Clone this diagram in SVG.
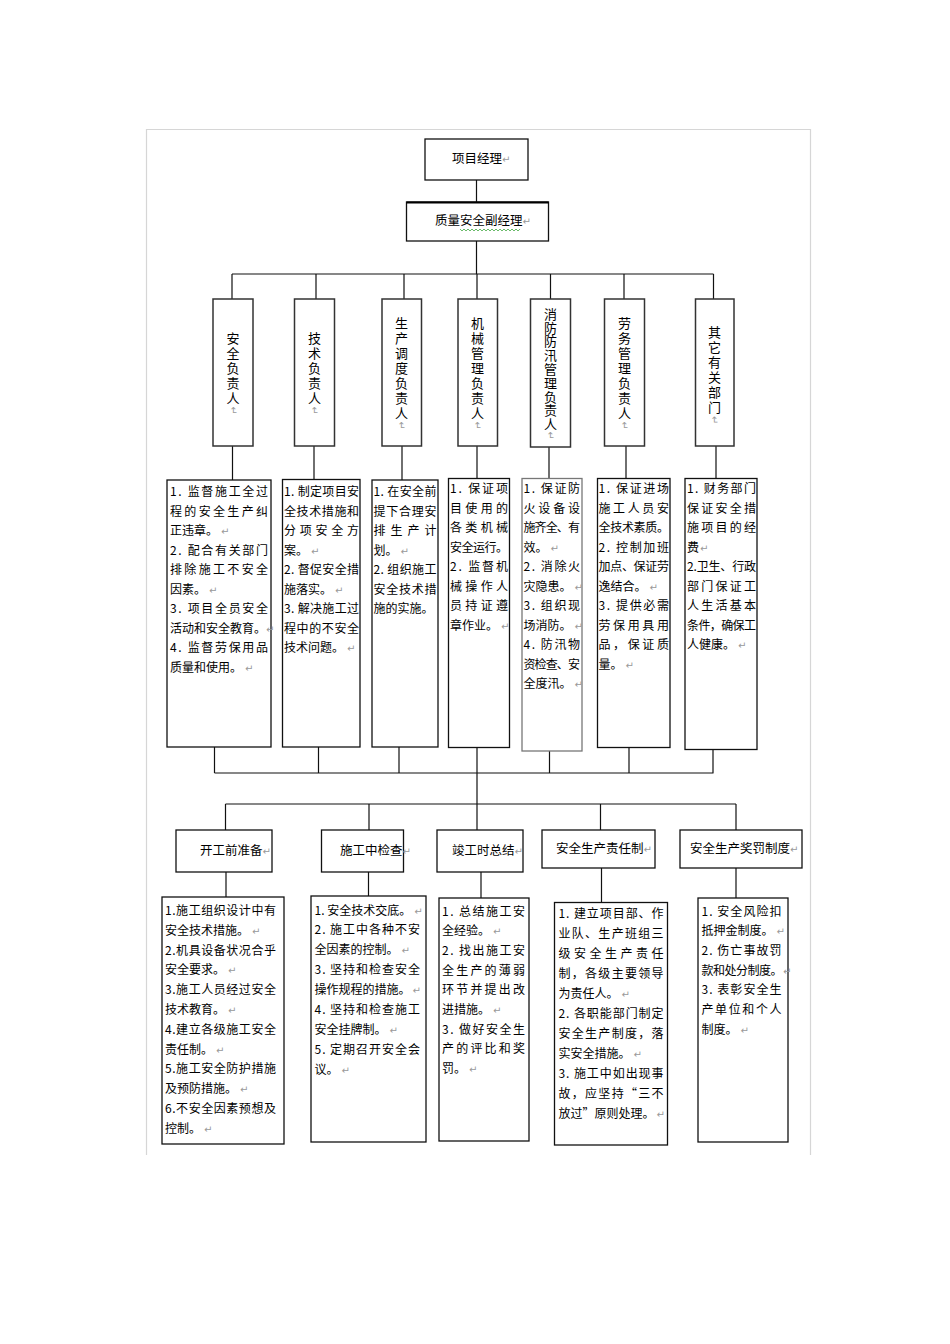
<svg xmlns="http://www.w3.org/2000/svg" width="950" height="1344" viewBox="0 0 950 1344">
<style>
.frame{fill:none;stroke:#d6d6d6;stroke-width:1.2}
.box{fill:#fff;stroke:#111;stroke-width:1.3}
.vbox{fill:#fff;stroke:#333;stroke-width:1.5}
.ln{fill:none;stroke:#111;stroke-width:1.2}
text{font-family:"Noto Sans CJK SC","Noto Sans",sans-serif;fill:#000}
.b{font-size:12px}
.h{font-size:12.5px}
.v{font-size:13px;writing-mode:vertical-rl;text-anchor:middle;letter-spacing:2px}
.pm{fill:#999;font-size:10px;font-family:"DejaVu Sans",sans-serif}
</style>
<rect width="950" height="1344" fill="#fff"/>
<path class="frame" d="M146.5 1155 V129.5 H810.5 V1155"/>

<g id="connectors">
<path class="ln" d="M476.5 180 V202 M476.5 241 V274 M232 274 H713.5 M232 274 V299 M316 274 V299 M404 274 V299 M477 274 V299 M550.5 274 V299 M624 274 V299 M713.5 274 V299"/>
<path class="ln" d="M232.5 446 V480 M314 446 V479.5 M402 446 V480 M477 446 V478.5 M549 447 V478.5 M626 446 V478.5 M716 446 V478.5"/>
<path class="ln" d="M214.5 747 V773 M318.5 747 V773 M399 747 V773 M477 747.5 V773 M549.5 751 V773 M629 747.5 V773 M713 749.5 V773 M214.5 773 H713.5 M477 773 V830"/>
<path class="ln" d="M225.5 804 H736 M225.5 804 V830 M369 804 V830 M600.5 804 V830 M736 804 V830"/>
<path class="ln" d="M226 872 V897 M368.5 872 V896 M481 872 V898 M601.5 868 V903 M736 868 V898"/>
</g>

<g id="n-pm">
<rect class="box" x="425" y="139" width="103" height="41"/>
<text class="h" x="452" y="163">项目经理<tspan class="pm">↵</tspan></text>
</g>
<g id="n-qsdm">
<rect class="box" x="406.5" y="202" width="142" height="39"/>
<path d="M406.5 202.5 H548.5" stroke="#000" stroke-width="2"/>
<text class="h" x="435" y="225">质量安全副经理<tspan class="pm">↵</tspan></text>
<polyline points="460,229 462,231 464,229 466,231 468,229 470,231 472,229 474,231 476,229 478,231 480,229 482,231 484,229 486,231 488,229 490,231 492,229 494,231 496,229 498,231 500,229 502,231 504,229 506,231 508,229 510,231 512,229 514,231 516,229 518,231 520,229" fill="none" stroke="#4a4" stroke-width="0.8"/>
</g>

<g id="n-v1"><rect class="vbox" x="213" y="299" width="40" height="147"/><text class="v" x="233" y="374">安全负责人<tspan class="pm">↵</tspan></text></g>
<g id="n-v2"><rect class="vbox" x="294.5" y="299" width="40" height="147"/><text class="v" x="314.5" y="374">技术负责人<tspan class="pm">↵</tspan></text></g>
<g id="n-v3"><rect class="vbox" x="382" y="299" width="39.5" height="147"/><text class="v" x="401.5" y="374">生产调度负责人<tspan class="pm">↵</tspan></text></g>
<g id="n-v4"><rect class="vbox" x="458" y="299" width="39.5" height="147"/><text class="v" x="477.5" y="374">机械管理负责人<tspan class="pm">↵</tspan></text></g>
<g id="n-v5"><rect class="vbox" x="530.5" y="299" width="40" height="148"/><text class="v" x="550.5" y="374" style="letter-spacing:0.8px">消防防汛管理负责人<tspan class="pm">↵</tspan></text></g>
<g id="n-v6"><rect class="vbox" x="604.5" y="299" width="40" height="147"/><text class="v" x="624.5" y="374">劳务管理负责人<tspan class="pm">↵</tspan></text></g>
<g id="n-v7"><rect class="vbox" x="695.5" y="299" width="38.5" height="147"/><text class="v" x="714.5" y="376">其它有关部门<tspan class="pm">↵</tspan></text></g>

<g id="n-t1">
<rect class="box" x="167" y="480" width="104" height="267"/>
<text class="b" x="170" y="496" textLength="98" lengthAdjust="spacing">1. 监督施工全过</text>
<text class="b" x="170" y="515.5" textLength="98" lengthAdjust="spacing">程的安全生产纠</text>
<text class="b" x="170" y="535">正违章。<tspan class="pm" dx="3">↵</tspan></text>
<text class="b" x="170" y="554.5" textLength="98" lengthAdjust="spacing">2. 配合有关部门</text>
<text class="b" x="170" y="574" textLength="98" lengthAdjust="spacing">排除施工不安全</text>
<text class="b" x="170" y="593.5">因素。<tspan class="pm" dx="3">↵</tspan></text>
<text class="b" x="170" y="613" textLength="98" lengthAdjust="spacing">3. 项目全员安全</text>
<text class="b" x="170" y="632.5" textLength="96" lengthAdjust="spacing">活动和安全教育。</text>
<text class="pm" x="266" y="632.5">↵</text>
<text class="b" x="170" y="652" textLength="98" lengthAdjust="spacing">4. 监督劳保用品</text>
<text class="b" x="170" y="671.5">质量和使用。<tspan class="pm" dx="3">↵</tspan></text>
</g>

<g id="n-t2">
<rect class="box" x="282.5" y="479.5" width="77.5" height="267.5"/>
<text class="b" x="284" y="496" textLength="75" lengthAdjust="spacing">1. 制定项目安</text>
<text class="b" x="284" y="515.5" textLength="75" lengthAdjust="spacing">全技术措施和</text>
<text class="b" x="284" y="535" textLength="75" lengthAdjust="spacing">分项安全方</text>
<text class="b" x="284" y="554.5">案。<tspan class="pm" dx="3">↵</tspan></text>
<text class="b" x="284" y="574" textLength="75" lengthAdjust="spacing">2. 督促安全措</text>
<text class="b" x="284" y="593.5">施落实。<tspan class="pm" dx="3">↵</tspan></text>
<text class="b" x="284" y="613" textLength="75" lengthAdjust="spacing">3. 解决施工过</text>
<text class="b" x="284" y="632.5" textLength="75" lengthAdjust="spacing">程中的不安全</text>
<text class="b" x="284" y="652">技术问题。<tspan class="pm" dx="3">↵</tspan></text>
</g>

<g id="n-t3">
<rect class="box" x="372" y="480" width="66" height="267"/>
<text class="b" x="373.5" y="496" textLength="63" lengthAdjust="spacing">1. 在安全前</text>
<text class="b" x="373.5" y="515.5" textLength="63" lengthAdjust="spacing">提下合理安</text>
<text class="b" x="373.5" y="535" textLength="63" lengthAdjust="spacing">排生产计</text>
<text class="b" x="373.5" y="554.5">划。<tspan class="pm" dx="3">↵</tspan></text>
<text class="b" x="373.5" y="574" textLength="63" lengthAdjust="spacing">2. 组织施工</text>
<text class="b" x="373.5" y="593.5" textLength="63" lengthAdjust="spacing">安全技术措</text>
<text class="b" x="373.5" y="613">施的实施。</text>
</g>

<g id="n-t4">
<rect class="box" x="448.5" y="478.5" width="61" height="269"/>
<text class="b" x="450" y="493" textLength="58" lengthAdjust="spacing">1. 保证项</text>
<text class="b" x="450" y="512.5" textLength="58" lengthAdjust="spacing">目使用的</text>
<text class="b" x="450" y="532" textLength="58" lengthAdjust="spacing">各类机械</text>
<text class="b" x="450" y="551.5" textLength="58" lengthAdjust="spacing">安全运行。</text>
<text class="b" x="450" y="571" textLength="58" lengthAdjust="spacing">2. 监督机</text>
<text class="b" x="450" y="590.5" textLength="58" lengthAdjust="spacing">械操作人</text>
<text class="b" x="450" y="610" textLength="58" lengthAdjust="spacing">员持证遵</text>
<text class="b" x="450" y="629.5">章作业。<tspan class="pm" dx="3">↵</tspan></text>
</g>

<g id="n-t5">
<rect class="box" x="522" y="478.5" width="60" height="272.5" style="stroke:#777"/>
<text class="b" x="523.5" y="493" textLength="56.5" lengthAdjust="spacing">1. 保证防</text>
<text class="b" x="523.5" y="512.5" textLength="56.5" lengthAdjust="spacing">火设备设</text>
<text class="b" x="523.5" y="532" textLength="56.5" lengthAdjust="spacing">施齐全、有</text>
<text class="b" x="523.5" y="551.5">效。<tspan class="pm" dx="3">↵</tspan></text>
<text class="b" x="523.5" y="571" textLength="56.5" lengthAdjust="spacing">2. 消除火</text>
<text class="b" x="523.5" y="590.5">灾隐患。<tspan class="pm" dx="3">↵</tspan></text>
<text class="b" x="523.5" y="610" textLength="56.5" lengthAdjust="spacing">3. 组织现</text>
<text class="b" x="523.5" y="629.5">场消防。<tspan class="pm" dx="3">↵</tspan></text>
<text class="b" x="523.5" y="649" textLength="56.5" lengthAdjust="spacing">4. 防汛物</text>
<text class="b" x="523.5" y="668.5" textLength="56.5" lengthAdjust="spacing">资检查、安</text>
<text class="b" x="523.5" y="688">全度汛。<tspan class="pm" dx="3">↵</tspan></text>
</g>

<g id="n-t6">
<rect class="box" x="597.5" y="478.5" width="72.5" height="269"/>
<text class="b" x="598.5" y="493" textLength="70.5" lengthAdjust="spacing">1. 保证进场</text>
<text class="b" x="598.5" y="512.5" textLength="70.5" lengthAdjust="spacing">施工人员安</text>
<text class="b" x="598.5" y="532" textLength="70.5" lengthAdjust="spacing">全技术素质。</text>
<text class="b" x="598.5" y="551.5" textLength="70.5" lengthAdjust="spacing">2. 控制加班</text>
<text class="b" x="598.5" y="571" textLength="70.5" lengthAdjust="spacing">加点、保证劳</text>
<text class="b" x="598.5" y="590.5">逸结合。<tspan class="pm" dx="3">↵</tspan></text>
<text class="b" x="598.5" y="610" textLength="70.5" lengthAdjust="spacing">3. 提供必需</text>
<text class="b" x="598.5" y="629.5" textLength="70.5" lengthAdjust="spacing">劳保用具用</text>
<text class="b" x="598.5" y="649" textLength="70.5" lengthAdjust="spacing">品，保证质</text>
<text class="b" x="598.5" y="668.5">量。<tspan class="pm" dx="3">↵</tspan></text>
</g>

<g id="n-t7">
<rect class="box" x="685" y="478.5" width="72" height="271"/>
<text class="b" x="687" y="493" textLength="69" lengthAdjust="spacing">1. 财务部门</text>
<text class="b" x="687" y="512.5" textLength="69" lengthAdjust="spacing">保证安全措</text>
<text class="b" x="687" y="532" textLength="69" lengthAdjust="spacing">施项目的经</text>
<text class="b" x="687" y="551.5">费<tspan class="pm" dx="1">↵</tspan></text>
<text class="b" x="687" y="571" textLength="69" lengthAdjust="spacing">2.卫生、行政</text>
<text class="b" x="687" y="590.5" textLength="69" lengthAdjust="spacing">部门保证工</text>
<text class="b" x="687" y="610" textLength="69" lengthAdjust="spacing">人生活基本</text>
<text class="b" x="687" y="629.5" textLength="69" lengthAdjust="spacing">条件，确保工</text>
<text class="b" x="687" y="649">人健康。<tspan class="pm" dx="3">↵</tspan></text>
</g>

<g id="n-h1"><rect class="box" x="176" y="830" width="96" height="42"/><text class="h" x="200" y="855">开工前准备<tspan class="pm">↵</tspan></text></g>
<g id="n-h2"><rect class="box" x="321.5" y="830" width="82" height="42"/><text class="h" x="340" y="855">施工中检查<tspan class="pm">↵</tspan></text></g>
<g id="n-h3"><rect class="box" x="437" y="830" width="86" height="42"/><text class="h" x="452" y="855">竣工时总结<tspan class="pm">↵</tspan></text></g>
<g id="n-h4"><rect class="box" x="542" y="830" width="113" height="38"/><text class="h" x="556" y="853">安全生产责任制<tspan class="pm">↵</tspan></text></g>
<g id="n-h5"><rect class="box" x="680" y="830" width="122" height="38"/><text class="h" x="690" y="853">安全生产奖罚制度<tspan class="pm">↵</tspan></text></g>

<g id="n-b1">
<rect class="box" x="162" y="897" width="122" height="247"/>
<text class="b" x="165" y="915" textLength="111" lengthAdjust="spacing">1.施工组织设计中有</text>
<text class="b" x="165" y="934.8">安全技术措施。<tspan class="pm" dx="3">↵</tspan></text>
<text class="b" x="165" y="954.6" textLength="111" lengthAdjust="spacing">2.机具设备状况合乎</text>
<text class="b" x="165" y="974.4">安全要求。<tspan class="pm" dx="3">↵</tspan></text>
<text class="b" x="165" y="994.2" textLength="111" lengthAdjust="spacing">3.施工人员经过安全</text>
<text class="b" x="165" y="1014">技术教育。<tspan class="pm" dx="3">↵</tspan></text>
<text class="b" x="165" y="1033.8" textLength="111" lengthAdjust="spacing">4.建立各级施工安全</text>
<text class="b" x="165" y="1053.6">责任制。<tspan class="pm" dx="3">↵</tspan></text>
<text class="b" x="165" y="1073.4" textLength="111" lengthAdjust="spacing">5.施工安全防护措施</text>
<text class="b" x="165" y="1093.2">及预防措施。<tspan class="pm" dx="3">↵</tspan></text>
<text class="b" x="165" y="1113" textLength="111" lengthAdjust="spacing">6.不安全因素预想及</text>
<text class="b" x="165" y="1132.8">控制。<tspan class="pm" dx="3">↵</tspan></text>
</g>

<g id="n-b2">
<rect class="box" x="311" y="896" width="115" height="246"/>
<text class="b" x="314.5" y="914.5">1. 安全技术交底。<tspan class="pm" dx="3">↵</tspan></text>
<text class="b" x="314.5" y="934.4" textLength="105.5" lengthAdjust="spacing">2. 施工中各种不安</text>
<text class="b" x="314.5" y="954.3">全因素的控制。<tspan class="pm" dx="3">↵</tspan></text>
<text class="b" x="314.5" y="974.2" textLength="105.5" lengthAdjust="spacing">3. 坚持和检查安全</text>
<text class="b" x="314.5" y="994.1">操作规程的措施。<tspan class="pm" dx="2">↵</tspan></text>
<text class="b" x="314.5" y="1014" textLength="105.5" lengthAdjust="spacing">4. 坚持和检查施工</text>
<text class="b" x="314.5" y="1033.9">安全挂牌制。<tspan class="pm" dx="3">↵</tspan></text>
<text class="b" x="314.5" y="1053.8" textLength="105.5" lengthAdjust="spacing">5. 定期召开安全会</text>
<text class="b" x="314.5" y="1073.7">议。<tspan class="pm" dx="3">↵</tspan></text>
</g>

<g id="n-b3">
<rect class="box" x="439" y="898" width="90" height="243"/>
<text class="b" x="442" y="915.5" textLength="83" lengthAdjust="spacing">1. 总结施工安</text>
<text class="b" x="442" y="935.2">全经验。<tspan class="pm" dx="3">↵</tspan></text>
<text class="b" x="442" y="954.9" textLength="83" lengthAdjust="spacing">2. 找出施工安</text>
<text class="b" x="442" y="974.6" textLength="83" lengthAdjust="spacing">全生产的薄弱</text>
<text class="b" x="442" y="994.3" textLength="83" lengthAdjust="spacing">环节并提出改</text>
<text class="b" x="442" y="1014">进措施。<tspan class="pm" dx="3">↵</tspan></text>
<text class="b" x="442" y="1033.7" textLength="83" lengthAdjust="spacing">3. 做好安全生</text>
<text class="b" x="442" y="1053.4" textLength="83" lengthAdjust="spacing">产的评比和奖</text>
<text class="b" x="442" y="1073.1">罚。<tspan class="pm" dx="3">↵</tspan></text>
</g>

<g id="n-b4">
<rect class="box" x="554.5" y="902.5" width="113" height="242.5"/>
<text class="b" x="558.5" y="918" textLength="105" lengthAdjust="spacing">1. 建立项目部、作</text>
<text class="b" x="558.5" y="938" textLength="105" lengthAdjust="spacing">业队、生产班组三</text>
<text class="b" x="558.5" y="958" textLength="105" lengthAdjust="spacing">级安全生产责任</text>
<text class="b" x="558.5" y="978" textLength="105" lengthAdjust="spacing">制，各级主要领导</text>
<text class="b" x="558.5" y="998">为责任人。<tspan class="pm" dx="3">↵</tspan></text>
<text class="b" x="558.5" y="1018" textLength="105" lengthAdjust="spacing">2. 各职能部门制定</text>
<text class="b" x="558.5" y="1038" textLength="105" lengthAdjust="spacing">安全生产制度，落</text>
<text class="b" x="558.5" y="1058">实安全措施。<tspan class="pm" dx="3">↵</tspan></text>
<text class="b" x="558.5" y="1078" textLength="105" lengthAdjust="spacing">3. 施工中如出现事</text>
<text class="b" x="558.5" y="1098" textLength="105" lengthAdjust="spacing">故，应坚持“三不</text>
<text class="b" x="558.5" y="1118">放过”原则处理。<tspan class="pm" dx="2">↵</tspan></text>
</g>

<g id="n-b5">
<rect class="box" x="698" y="898" width="90" height="244"/>
<text class="b" x="701.5" y="915.5" textLength="80" lengthAdjust="spacing">1. 安全风险扣</text>
<text class="b" x="701.5" y="935.2">抵押金制度。<tspan class="pm" dx="3">↵</tspan></text>
<text class="b" x="701.5" y="954.9" textLength="80" lengthAdjust="spacing">2. 伤亡事故罚</text>
<text class="b" x="701.5" y="974.6" textLength="81" lengthAdjust="spacing">款和处分制度。</text>
<text class="pm" x="783" y="974.6">↵</text>
<text class="b" x="701.5" y="994.3" textLength="80" lengthAdjust="spacing">3. 表彰安全生</text>
<text class="b" x="701.5" y="1014" textLength="80" lengthAdjust="spacing">产单位和个人</text>
<text class="b" x="701.5" y="1033.7">制度。<tspan class="pm" dx="3">↵</tspan></text>
</g>
</svg>
